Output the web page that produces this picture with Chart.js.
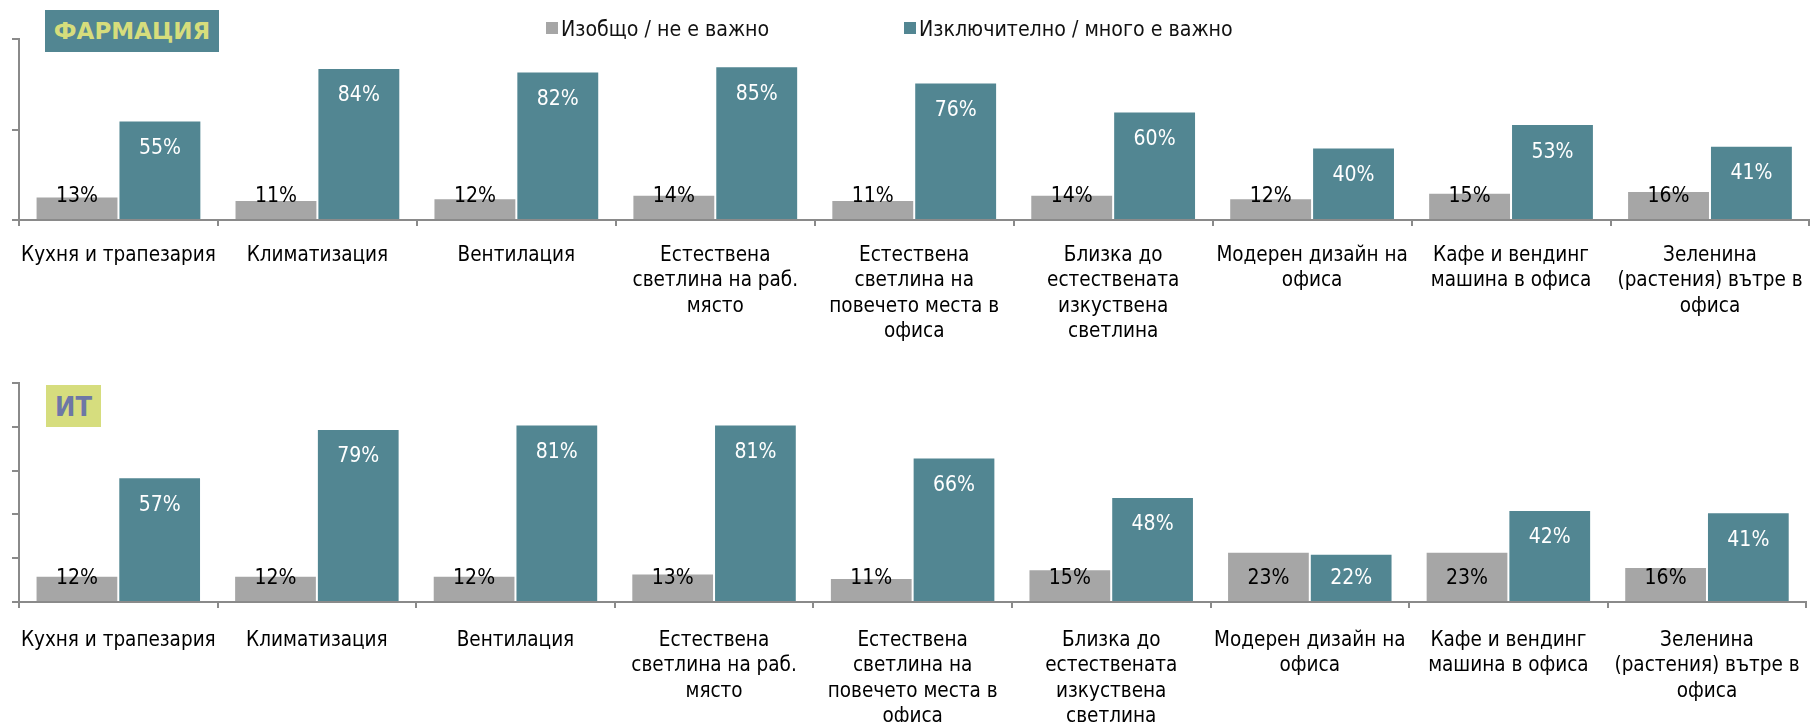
<!DOCTYPE html>
<html><head><meta charset="utf-8">
<script src="https://cdn.jsdelivr.net/npm/chart.js@4.4.1/dist/chart.umd.min.js"></script>
<style>
html,body{margin:0;padding:0;background:#fff;overflow:hidden;}
#wrap{position:relative;width:1819px;height:722px;}
canvas{position:absolute;left:0;}
#c1{top:0;}
#c2{top:361px;}
.tag{position:absolute;font-weight:bold;display:flex;align-items:center;justify-content:center;line-height:1;}
#tag1{left:45px;top:10px;width:174px;height:42px;background:#528692;color:#d6dd7c;font-family:'DejaVu Sans';font-size:23px;}
#tag2{left:46px;top:385px;width:55px;height:42px;background:#d6dd7e;color:#6d77a6;font-family:'DejaVu Sans Condensed';font-size:27px;}
.leg{position:absolute;top:16px;height:24px;display:flex;align-items:center;font-family:'DejaVu Sans Condensed';font-size:21.2px;color:#111;white-space:nowrap;}
.leg i{display:inline-block;width:12px;height:12px;margin-right:3px;}
</style>
</head><body>
<div id="wrap">
<canvas id="c1" width="1819" height="361"></canvas>
<canvas id="c2" width="1819" height="361"></canvas>
<div class="tag" id="tag1">ФАРМАЦИЯ</div>
<div class="tag" id="tag2">ИТ</div>
<div class="leg" id="leg1" style="left:546px"><i style="background:#a6a6a6"></i><span id="legText1"></span></div>
<div class="leg" id="leg2" style="left:904px"><i style="background:#528692"></i><span id="legText2"></span></div>
</div>
<script>
// ---- data ----
const categories = [
  ["Кухня и трапезария"],
  ["Климатизация"],
  ["Вентилация"],
  ["Естествена", "светлина на раб.", "място"],
  ["Естествена", "светлина на", "повечето места в", "офиса"],
  ["Близка до", "естествената", "изкуствена", "светлина"],
  ["Модерен дизайн на", "офиса"],
  ["Кафе и вендинг", "машина в офиса"],
  ["Зеленина", "(растения) вътре в", "офиса"]
];
const seriesNames = ["Изобщо / не е важно", "Изключително / много е важно"];
const pharmaNotImportant = [13, 11, 12, 14, 11, 14, 12, 15, 16];
const pharmaImportant    = [55, 84, 82, 85, 76, 60, 40, 53, 41];
const itNotImportant     = [12, 12, 12, 13, 11, 15, 23, 23, 16];
const itImportant        = [57, 79, 81, 81, 66, 48, 22, 42, 41];
const pharmaYTicks = [0, 50, 100];
const itYTicks = [0, 20, 40, 60, 80, 100];

document.getElementById('legText1').textContent = seriesNames[0];
document.getElementById('legText2').textContent = seriesNames[1];

const GREY = '#a6a6a6', TEAL = '#528692', AXIS = '#8a8a8a';
const FONT = "'DejaVu Sans Condensed', 'DejaVu Sans', sans-serif";

const valueLabels = {
  id: 'valueLabels',
  afterDatasetsDraw(chart) {
    const ctx = chart.ctx;
    ctx.save();
    ctx.font = "21px " + FONT;
    ctx.textAlign = 'center';
    ctx.textBaseline = 'middle';
    chart.data.datasets.forEach((ds, di) => {
      const meta = chart.getDatasetMeta(di);
      meta.data.forEach((bar, i) => {
        const v = ds.data[i];
        let y;
        if (di === 0) y = bar.base - 23;
        else y = Math.min(bar.y + 27, bar.base - 23);
        ctx.fillStyle = di === 0 ? '#000' : '#fff';
        ctx.fillText(v + '%', bar.x, y + 1);
      });
    });
    ctx.restore();
  }
};

function makeChart(id, grey, teal, yTicks, topPad, xHeight, labelPad) {
  const step = yTicks[1] - yTicks[0];
  return new Chart(document.getElementById(id), {
    type: 'bar',
    data: {
      labels: categories,
      datasets: [
        { label: seriesNames[0], data: grey, backgroundColor: GREY, borderColor: 'rgba(255,255,255,0.35)', borderWidth: 1,
          categoryPercentage: 0.8333, barPercentage: 1.0 },
        { label: seriesNames[1], data: teal, backgroundColor: TEAL, borderColor: 'rgba(255,255,255,0.3)', borderWidth: 1,
          categoryPercentage: 0.8333, barPercentage: 1.0 }
      ]
    },
    options: {
      responsive: false,
      animation: false,
      events: [],
      layout: { padding: { left: 12, top: topPad, right: 0, bottom: 0 } },
      plugins: { legend: { display: false }, tooltip: { enabled: false } },
      scales: {
        x: {
          offset: true,
          grid: { display: true, drawOnChartArea: false, drawTicks: true, tickLength: 6, color: AXIS, lineWidth: 2, offset: true },
          border: { display: true, color: AXIS, width: 2 },
          ticks: { color: '#000', autoSkip: false, maxRotation: 0, minRotation: 0, padding: labelPad,
                   font: { family: FONT, size: 20.5, lineHeight: '25.5px' } },
          afterFit(scale) { scale.height = xHeight; }
        },
        y: {
          min: yTicks[0], max: yTicks[yTicks.length - 1],
          ticks: { display: false, stepSize: step },
          grid: { display: true, drawOnChartArea: false, drawTicks: true, tickLength: 7, color: AXIS, lineWidth: 2 },
          border: { display: true, color: AXIS, width: 2 }
        }
      }
    },
    plugins: [valueLabels]
  });
}

makeChart('c1', pharmaNotImportant, pharmaImportant, pharmaYTicks, 39, 141, 16.5);
makeChart('c2', itNotImportant, itImportant, itYTicks, 22, 120, 19.5);
</script>
</body></html>
